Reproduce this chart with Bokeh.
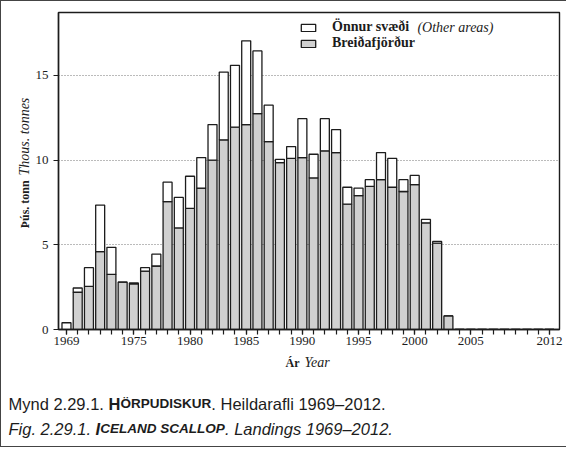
import numpy as np
from bokeh.plotting import figure
from bokeh.layouts import row, column
from bokeh.models import Range1d, FixedTicker, Label, Legend, LegendItem, ColumnDataSource
from bokeh.core.properties import value
from bokeh.embed import file_html
from bokeh.resources import INLINE

# ---------------- data (thousand tonnes) ----------------
years = list(range(1969, 2013))
breidafjordur = [0.0, 2.2, 2.55, 4.6, 3.25, 2.8, 2.7, 3.45, 3.75, 7.55,
                 6.0, 7.15, 8.35, 10.0, 11.2, 11.95, 12.1, 12.75, 11.1, 9.85,
                 10.1, 10.15, 8.95, 10.55, 10.45, 7.4, 7.9, 8.45, 8.85, 8.4,
                 8.15, 8.55, 6.3, 5.1, 0.8, 0, 0, 0, 0, 0, 0, 0, 0, 0]
other_areas = [0.4, 0.25, 1.1, 2.75, 1.6, 0.0, 0.05, 0.2, 0.7, 1.15,
               1.8, 1.9, 1.8, 2.1, 4.0, 3.65, 4.95, 3.7, 2.15, 0.2,
               0.7, 2.3, 1.4, 1.9, 1.35, 1.0, 0.45, 0.4, 1.6, 1.7,
               0.7, 0.55, 0.2, 0.1, 0.0, 0, 0, 0, 0, 0, 0, 0, 0, 0]
x_tick_labels = [1969, 1975, 1980, 1985, 1990, 1995, 2000, 2005, 2012]
y_ticks = [0, 5, 10, 15]
series_names = ["Önnur svæði", "Breiðafjörður"]

src = ColumnDataSource(dict(year=years, breidafjordur=breidafjordur, other=other_areas))

INK = "#1c1c1c"
SERIF = "Liberation Serif"
SANS = "Liberation Sans"

TOP_H = 354
W = 565
YF_W = 30
BOT_H = 445 - TOP_H

# ---------------- main chart ----------------
p = figure(width=W - YF_W, height=TOP_H, output_backend="svg", toolbar_location=None,
           title=None, x_range=Range1d(1968.29, 2012.89), y_range=Range1d(0, 18.72),
           min_border_left=27, min_border_right=7, min_border_top=11, min_border_bottom=26)
p.outline_line_color = INK
p.outline_line_width = 1.4
p.border_fill_color = "white"

rends = p.vbar_stack(["breidafjordur", "other"], x="year", width=0.8, source=src,
                     fill_color=["#d0d0d0", "white"], line_color=INK, line_width=1.3)

p.xaxis.ticker = FixedTicker(ticks=x_tick_labels, minor_ticks=years)
p.yaxis.ticker = FixedTicker(ticks=y_ticks)
for ax in (p.xaxis[0], p.yaxis[0]):
    ax.axis_line_color = INK
    ax.axis_line_width = 1.4
    ax.major_tick_line_color = INK
    ax.minor_tick_line_color = INK
    ax.major_tick_line_width = 1.2
    ax.minor_tick_line_width = 1.2
    ax.major_tick_in = 0
    ax.minor_tick_in = 0
    ax.major_label_text_font = SERIF
    ax.major_label_text_font_size = "13px"
    ax.major_label_text_color = INK
p.xaxis.major_tick_out = 5
p.xaxis.minor_tick_out = 5
p.xaxis.major_label_standoff = 2
p.yaxis.major_tick_out = 5
p.yaxis.minor_tick_out = 0
p.yaxis.major_label_standoff = 5

p.xgrid.visible = False
p.ygrid.ticker = FixedTicker(ticks=[5, 10, 15])
p.ygrid.grid_line_color = "#777777"
p.ygrid.grid_line_dash = "1 2"
p.ygrid.grid_line_width = 1

leg = Legend(items=[LegendItem(label=series_names[0], renderers=[rends[1]]),
                    LegendItem(label=series_names[1], renderers=[rends[0]])],
             location=(241, 278), orientation="vertical",
             glyph_width=18, glyph_height=9, label_standoff=15, spacing=0,
             padding=0, margin=0, border_line_color=None, background_fill_alpha=0,
             label_text_font=SERIF, label_text_font_size="14px",
             label_text_font_style="bold", label_text_color=INK)
p.add_layout(leg)

# --- font metrics (per 1000 em) for placing mixed-style text runs ---
TIMES_B = {'Þ': 611, 'ú': 556, 's': 389, '.': 250, ' ': 250, 't': 333, 'o': 500, 'n': 556,
           'Ö': 778, 'u': 556, 'r': 444, 'v': 500, 'æ': 722, 'ð': 500, 'i': 278, 'Á': 722}
ARIAL = {'M': 833, 'y': 500, 'n': 556, 'd': 556, ' ': 278, '.': 278, '0': 556, '1': 556,
         '2': 556, '6': 556, '9': 556, '–': 556, 'H': 722, 'e': 556, 'i': 222, 'l': 222,
         'a': 556, 'r': 333, 'f': 278, 'F': 611, 'g': 556, 'L': 556, 's': 500}
ARIAL_B = {'H': 722, 'Ö': 778, 'R': 722, 'P': 667, 'U': 722, 'D': 722, 'I': 278, 'S': 667,
           'K': 722, 'C': 722, 'E': 667, 'L': 611, 'A': 722, 'N': 722, 'O': 778, ' ': 278}


def width(text, table, size):
    return sum(table.get(c, 556) for c in text) / 1000.0 * size


p.add_layout(Label(x=274 + width("Önnur svæði ", TIMES_B, 14) + 4, y=302,
                   x_units="screen", y_units="screen", text="(Other areas)",
                   text_font=SERIF, text_font_size="14px", text_font_style="italic",
                   text_color=INK, text_baseline="middle"))


def blank(w, h, xr, yr):
    f = figure(width=w, height=h, output_backend="svg", toolbar_location=None, title=None,
               x_range=Range1d(*xr), y_range=Range1d(*yr),
               x_axis_location=None, y_axis_location=None,
               min_border=0, min_border_left=0, min_border_right=0,
               min_border_top=0, min_border_bottom=0)
    f.outline_line_color = None
    f.xgrid.visible = False
    f.ygrid.visible = False
    f.border_fill_color = "white"
    return f


def put(f, text, x, y, size, font, style, angle=0.0):
    f.text(x=[x], y=[y], text=[text], text_font=value(font), text_font_size=f"{size}px",
           text_font_style=style, text_color=INK, text_align="left",
           text_baseline="alphabetic", angle=angle)


# coordinates in these helper panels are in reference-page pixels (y downwards)
yf = blank(YF_W, TOP_H, (9, 9 + YF_W), (9 + TOP_H, 9))
ystart = 250
put(yf, "Þús. tonn", 32, ystart, 12, SERIF, "bold", angle=np.pi / 2)
put(yf, "Thous. tonnes", 32, ystart - width("Þús. tonn", TIMES_B, 12) - 11, 14, SERIF,
    "italic", angle=np.pi / 2)

bf = blank(W, BOT_H, (9, 9 + W), (9 + TOP_H + BOT_H, 9 + TOP_H))
xs = 293
put(bf, "Ár", xs, 370, 12, SERIF, "bold")
put(bf, "Year", xs + width("Ár ", TIMES_B, 12) + 2, 370, 14, SERIF, "italic")

# captions: consecutive runs; small caps emulated with a smaller bold size
F = 16.5
SC = 0.82
runs1 = [("Mynd 2.29.1. ", ARIAL, F, "normal"), ("H", ARIAL_B, F, "bold"),
         ("ÖRPUDISKUR", ARIAL_B, F * SC, "bold"), (". Heildarafli 1969–2012.", ARIAL, F, "normal")]
runs2 = [("Fig. 2.29.1. ", ARIAL, F, "italic"), ("I", ARIAL_B, F, "bold italic"),
         ("CELAND SCALLOP", ARIAL_B, F * SC, "bold italic"), (". Landings 1969–2012.", ARIAL, F, "italic")]
for runs, yb in ((runs1, 411), (runs2, 436)):
    xx = 16
    for text, table, size, style in runs:
        put(bf, text, round(xx, 1), yb, round(size, 2), SANS, style)
        xx += width(text, table, size)

layout = column(row(yf, p), bf)
layout.styles = {"border-top": "1px solid #444", "border-left": "1px solid #444",
                 "border-bottom": "1px solid #444"}

open("out.html", "w").write(file_html(layout, INLINE))
